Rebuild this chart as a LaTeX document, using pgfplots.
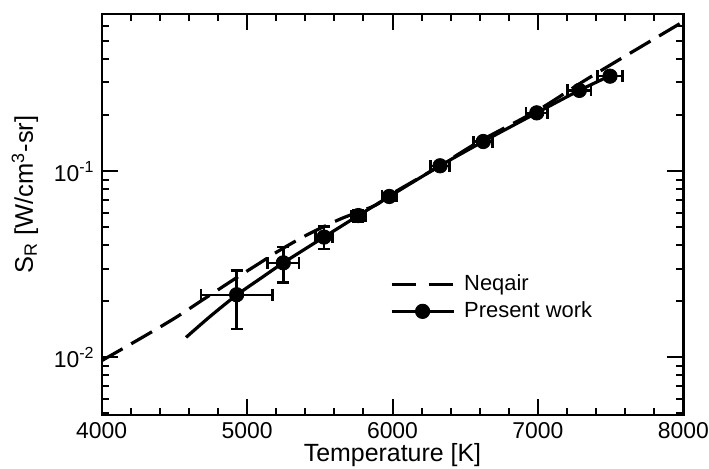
\documentclass[border=0pt]{standalone}
\usepackage{fontspec}
\setmainfont{Liberation Sans}
\usepackage{pgfplots}
\pgfplotsset{compat=1.18}
\begin{document}
\begin{tikzpicture}
\begin{axis}[
  at={(0,0)},anchor=south west,
  scale only axis,width=290.8bp,height=200.5bp,
  ymode=log,xmin=4000,xmax=8000,ymin=0.0049,ymax=0.7,
  xtick={4000,5000,6000,7000,8000},minor x tick num=4,
  ytick={0.01,0.1},yticklabels={10\textsuperscript{-2},10\textsuperscript{-1}},
  minor ytick={0.005,0.006,0.007,0.008,0.009,0.02,0.03,0.04,0.05,0.06,0.07,0.08,0.09,0.2,0.3,0.4,0.5,0.6,0.7},
  major tick length=8bp,minor tick length=3.5bp,
  tick style={line width=1bp,black},
  axis line style={line width=1.2bp},
  tick label style={font=\fontsize{11.5}{13}\selectfont},
  /pgf/number format/assume math mode=true,
  /pgf/number format/set thousands separator={},
  xlabel={Temperature [K]},
  ylabel={S\textsubscript{R} [W/cm\textsuperscript{3}-sr]},
  xlabel style={font=\fontsize{12.5}{14}\selectfont,at={(axis description cs:0.5,-0.1)},anchor=center},
  ylabel style={font=\fontsize{12.8}{15}\selectfont,at={(axis description cs:-0.132,0.55)},anchor=center},
  legend style={draw=none,fill=none,at={(0.495,0.36)},anchor=north west,
                font=\fontsize{11}{13}\selectfont,row sep=0bp,
                inner sep=0pt,nodes={inner sep=2bp},
                /tikz/every odd column/.append style={column sep=2.5bp}},
  legend cell align=left]
\addplot[black,line width=1.6bp,dash pattern=on 12bp off 5bp,smooth,
  legend image code/.code={\draw[black,line width=1.6bp] (0bp,0bp)--(15.5bp,0bp);
                           \draw[black,line width=1.6bp] (18.5bp,0bp)--(31bp,0bp);}]
  coordinates {(4000,0.0096) (4264,0.0126) (4500,0.0162) (4700,0.0205) (4928,0.0268)
               (5089,0.0322) (5204,0.0368) (5400,0.0450) (5639,0.0553) (5880,0.0655)
               (6000,0.0760) (6300,0.1040) (6600,0.1450) (7000,0.2130) (7300,0.3000)
               (7576,0.4050) (8000,0.6370)};
\addlegendentry{Neqair}
\addplot[black,line width=1.6bp,smooth,forget plot]
  coordinates {(4580,0.0128) (4750,0.0167) (4928,0.0216) (5100,0.0268) (5249,0.0322)
               (5529,0.0443) (5765,0.0578) (5978,0.0732) (6327,0.1070) (6624,0.1445)
               (6992,0.2060) (7285,0.2720) (7540,0.3380)};
% horizontal error bars
\addplot[forget plot,draw=none,mark=none,
  error bars/.cd,x dir=both,x explicit,
  error bar style={draw=black,line width=1.2bp},
  error mark=|,error mark options={draw=black,line width=1.3bp,mark size=3bp}]
  coordinates {(4928,0.0217) +- (245,0)
               (5249,0.0322) +- (108,0)
               (5529,0.0443) +- (60,0)
               (5765,0.0578) +- (50,0)
               (5978,0.0732) +- (50,0)
               (6327,0.1070) +- (65,0)
               (6624,0.1445) +- (65,0)
               (6992,0.2060) +- (75,0)
               (7285,0.2720) +- (80,0)
               (7496,0.3243) +- (85,0)};
% vertical error bars
\addplot[forget plot,draw=none,mark=none,
  error bars/.cd,y dir=both,y explicit,
  error bar style={draw=black,line width=1.2bp},
  error mark=|,error mark options={draw=black,line width=1.3bp,mark size=3bp}]
  coordinates {(4928,0.0217) +- (0,0.0075)
               (5249,0.0322) +- (0,0.0070)
               (5529,0.0443) +- (0,0.0060)
               (5765,0.0578) +- (0,0.0040)
               (5978,0.0732) +- (0,0.0030)
               (6327,0.1070) +- (0,0.0040)
               (6624,0.1445) +- (0,0.0050)
               (6992,0.2060) +- (0,0.0080)
               (7285,0.2720) +- (0,0.0120)
               (7496,0.3243) +- (0,0.0150)};
\addplot[black,only marks,mark=*,mark size=3.6bp,
  legend image code/.code={\draw[black,line width=1.6bp] (0bp,0bp)--(31bp,0bp);
                           \fill[black] (15.5bp,0bp) circle (3.6bp);}]
  coordinates {(4928,0.0217) (5249,0.0322) (5529,0.0443) (5765,0.0578) (5978,0.0732)
               (6327,0.1070) (6624,0.1445) (6992,0.2060) (7285,0.2720) (7496,0.3243)};
\addlegendentry{Present work}
\end{axis}
\pgfresetboundingbox
\path[use as bounding box] (-50.85bp,-27bp) rectangle (303.65bp,207.5bp);
\end{tikzpicture}
\end{document}
